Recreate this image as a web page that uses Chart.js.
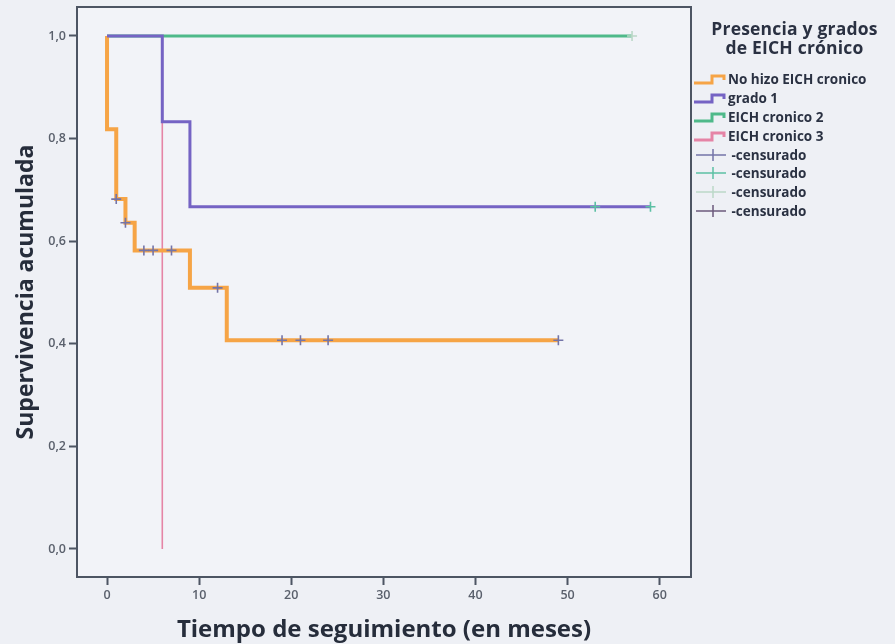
<!DOCTYPE html>
<html lang="es">
<head>
  <meta charset="UTF-8">
  <title>Supervivencia acumulada</title>
  <script src="https://cdn.jsdelivr.net/npm/chart.js"></script>
  <style>
    html, body { margin: 0; padding: 0; background: #eef0f5; }
    #wrap { position: relative; width: 895px; height: 644px; }
    #legend { position: absolute; left: 694px; top: 19px; width: 201px; font-family: "Open Sans", sans-serif; color: #2a3142; }
    #legend h4 { margin: 0 0 13px 0; font-size: 17.5px; line-height: 19px; text-align: center; font-weight: bold; letter-spacing: 0.2px; }
    #legend .row { display: flex; align-items: center; height: 18.8px; font-size: 13.5px; font-weight: bold; white-space: nowrap; }
    #legend svg { width: 34px; height: 14px; flex: none; }
  </style>
</head>
<body>
  <div id="wrap">
    <canvas id="km" width="895" height="644"></canvas>
    <div id="legend"></div>
  </div>

  <script>
    // curvas de Kaplan-Meier (tiempo en meses, supervivencia)
    const groups = ["No hizo EICH cronico", "grado 1", "EICH cronico 2", "EICH cronico 3"];
    const colors = ["#f6a446", "#7563c4", "#4fb98a", "#e584a6"];
    const widths = [4, 3, 3, 1.6];

    const noHizoT = [0, 0, 1, 2, 3, 9, 13, 49];
    const noHizoS = [1, 0.818, 0.682, 0.636, 0.582, 0.509, 0.407, 0.407];
    const grado1T = [0, 6, 9, 59];
    const grado1S = [1, 0.833, 0.667, 0.667];
    const grado2T = [0, 57];
    const grado2S = [1, 1];
    const grado3T = [0, 6, 6];
    const grado3S = [1, 1, 0];

    // censurados
    const cens1T = [1, 2, 4, 5, 7, 12, 19, 21, 24, 49];
    const cens1S = [0.682, 0.636, 0.582, 0.582, 0.582, 0.509, 0.407, 0.407, 0.407, 0.407];
    const cens2T = [53, 59];
    const cens2S = [0.667, 0.667];
    const cens3T = [57];
    const cens3S = [1];
    const censColors = ["#7474a8", "#5cc0a4", "#bcd8c8", "#6c5a7c"];

    const xTicks = [0, 10, 20, 30, 40, 50, 60];
    const yTicks = [0, 0.2, 0.4, 0.6, 0.8, 1.0];

    const pts = (t, s) => t.map((v, i) => ({ x: v, y: s[i] }));

    const curves = [
      { t: grado1T, s: grado1S, g: 1 },
      { t: noHizoT, s: noHizoS, g: 0 },
      { t: grado3T, s: grado3S, g: 3 },
      { t: grado2T, s: grado2S, g: 2 }
    ];
    const censored = [
      { t: cens1T, s: cens1S, c: censColors[0] },
      { t: cens2T, s: cens2S, c: censColors[1] },
      { t: cens3T, s: cens3S, c: censColors[2] }
    ];

    const datasets = [];
    censored.forEach(c => datasets.push({
      data: pts(c.t, c.s), showLine: false, pointStyle: "cross",
      pointRadius: 5, borderColor: c.c, pointBorderWidth: 1.6
    }));
    curves.forEach(c => datasets.push({
      data: pts(c.t, c.s), showLine: true, stepped: "before",
      borderColor: colors[c.g], borderWidth: widths[c.g], pointRadius: 0
    }));

    const bg = {
      id: "bg",
      beforeDraw(chart) {
        const { ctx, chartArea: a } = chart;
        ctx.save();
        ctx.fillStyle = "#eef0f5";
        ctx.fillRect(0, 0, chart.width, chart.height);
        ctx.fillStyle = "#f2f3f8";
        ctx.fillRect(a.left, a.top, a.right - a.left, a.bottom - a.top);
        ctx.restore();
      },
      afterDraw(chart) {
        const { ctx, chartArea: a } = chart;
        ctx.save();
        ctx.strokeStyle = "#4d5563";
        ctx.lineWidth = 2;
        ctx.strokeRect(a.left, a.top, a.right - a.left, a.bottom - a.top);
        ctx.restore();
      }
    };

    const tickFont = { family: "Open Sans", size: 12.5, weight: "600" };

    new Chart(document.getElementById("km"), {
      type: "scatter",
      data: { datasets },
      plugins: [bg],
      options: {
        responsive: false,
        animation: false,
        layout: { padding: { top: 7, right: 204, left: 0, bottom: 0 } },
        plugins: { legend: { display: false }, tooltip: { enabled: false } },
        scales: {
          x: {
            type: "linear", min: -3.26, max: 63.4,
            afterBuildTicks: s => { s.ticks = xTicks.map(v => ({ value: v })); },
            afterFit: s => { s.height = 67; s.paddingLeft = 0; s.paddingRight = 0; },
            grid: { drawOnChartArea: false, drawTicks: true, tickLength: 8, tickColor: "#4d5563", tickWidth: 2 },
            border: { display: false },
            ticks: { color: "#5a606c", font: tickFont, padding: 3 },
            title: { display: true, text: "Tiempo de seguimiento (en meses)", color: "#262d3b",
              font: { family: "Open Sans", size: 24, weight: "bold" }, padding: { top: 0, bottom: -1 } }
          },
          y: {
            type: "linear", min: -0.0546, max: 1.0565,
            afterBuildTicks: s => { s.ticks = yTicks.map(v => ({ value: v })); },
            afterFit: s => { s.width = 77; s.paddingTop = 0; s.paddingBottom = 0; },
            grid: { drawOnChartArea: false, drawTicks: true, tickLength: 8, tickColor: "#4d5563", tickWidth: 2 },
            border: { display: false },
            ticks: { color: "#5a606c", font: tickFont, padding: 3,
              callback: v => v.toFixed(1).replace(".", ",") },
            title: { display: true, text: "Supervivencia acumulada", color: "#262d3b",
              font: { family: "Open Sans", size: 23, weight: "bold" }, padding: { top: 13, bottom: 0 } }
          }
        }
      }
    });

    // leyenda
    const legend = document.getElementById("legend");
    legend.innerHTML = "<h4>Presencia y grados<br>de EICH crónico</h4>";
    const stepIcon = c => `<svg viewBox="0 0 34 14"><path d="M0 11 H18 V4 H30 V8" fill="none" stroke="${c}" stroke-width="3"/></svg>`;
    const crossIcon = c => `<svg viewBox="0 0 34 14"><path d="M2 7 H32 M19 1 V13" fill="none" stroke="${c}" stroke-width="1.5"/></svg>`;
    groups.forEach((g, i) => {
      legend.innerHTML += `<div class="row">${stepIcon(colors[i])}<span>${g}</span></div>`;
    });
    censColors.forEach(c => {
      legend.innerHTML += `<div class="row">${crossIcon(c)}<span>&nbsp;-censurado</span></div>`;
    });
  </script>
</body>
</html>
